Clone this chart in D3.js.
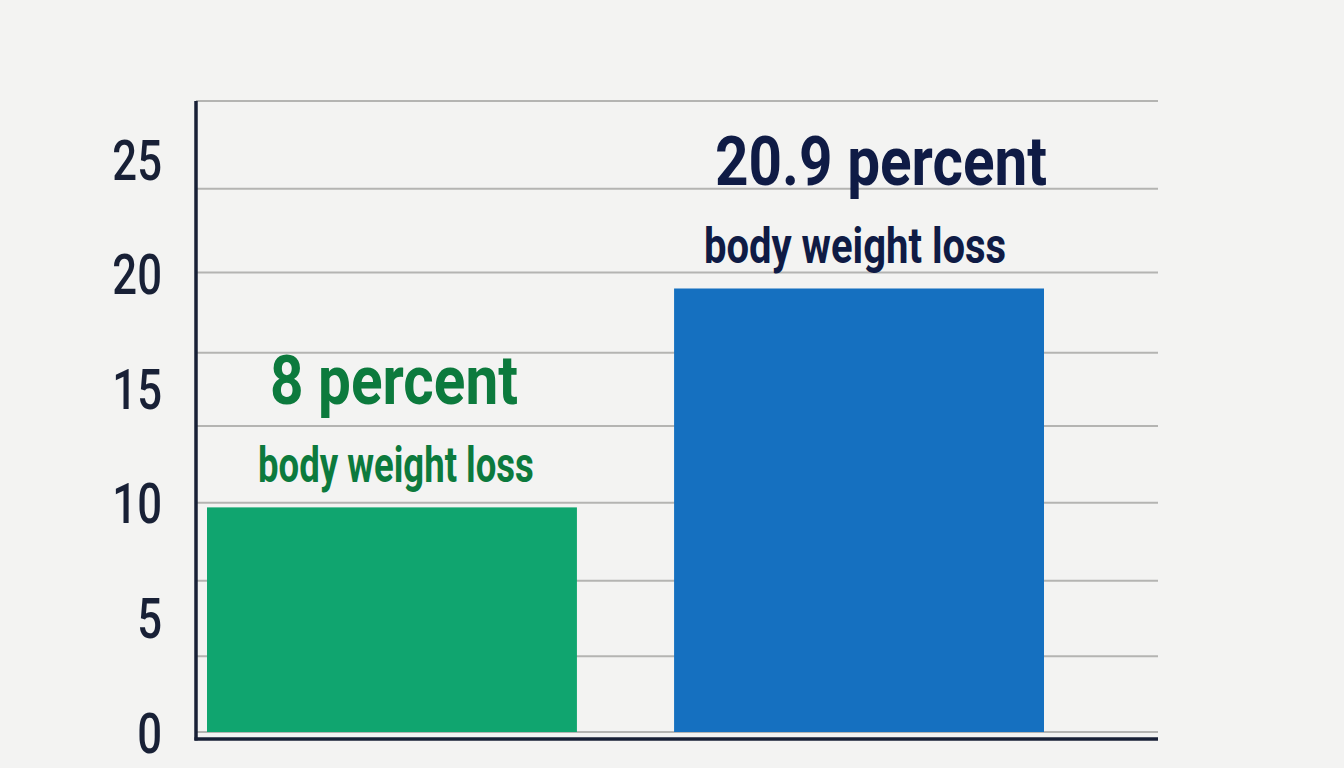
<!DOCTYPE html>
<html>
<head>
<meta charset="utf-8">
<script src="https://cdn.jsdelivr.net/npm/d3@7"></script>
<style>
  html, body { margin: 0; padding: 0; background: #f3f3f2; }
  svg { display: block; }
</style>
</head>
<body>
<svg id="chart" width="1344" height="768"></svg>
<script>
// --- data ---
const groups = ["low", "high"];
const barValues = [9.8, 19.35];
const headlines = ["8 percent", "20.9 percent"];
const sublines = ["body weight loss", "body weight loss"];
const yTicks = [0, 5, 10, 15, 20, 25];
const gridValues = [0, 3.3, 6.6, 10.0, 13.35, 16.55, 20.05, 23.7, 27.53];

// colours
const barFill = ["#10a56f", "#1570c0"];
const labelFill = ["#0c7a3d", "#0f1b45"];
const ink = "#182036";

const svg = d3.select("#chart");
const W = 1344, H = 768;
const axisX = 196, plotRight = 1158, axisY = 739;

// y: 0 sits on the bar baseline, 25 near the top
const y = d3.scaleLinear().domain([0, 25]).range([732, 159]);
const yMax = d3.max(gridValues);

const x = d3.scaleBand().domain(groups).range([207, 1044]).paddingInner(0.208).paddingOuter(0);

svg.append("rect").attr("width", W).attr("height", H).attr("fill", "#f3f3f2");

// gridlines
svg.append("g").selectAll("line").data(gridValues).join("line")
    .attr("x1", axisX).attr("x2", plotRight)
    .attr("y1", d => y(d)).attr("y2", d => y(d))
    .attr("stroke", "#b4b4b2").attr("stroke-width", 2);

// bars
svg.append("g").selectAll("rect").data(groups).join("rect")
    .attr("x", d => x(d))
    .attr("width", x.bandwidth())
    .attr("y", (d, i) => y(barValues[i]))
    .attr("height", (d, i) => y(0) - y(barValues[i]))
    .attr("fill", (d, i) => barFill[i]);

// axes lines
svg.append("line")
    .attr("x1", axisX).attr("x2", axisX)
    .attr("y1", y(yMax)).attr("y2", axisY + 1.5)
    .attr("stroke", ink).attr("stroke-width", 3.5);
svg.append("line")
    .attr("x1", axisX - 1.5).attr("x2", plotRight)
    .attr("y1", axisY).attr("y2", axisY)
    .attr("stroke", ink).attr("stroke-width", 3.5);

// y tick labels
const yAxis = svg.append("g")
    .attr("transform", `translate(${axisX},0)`)
    .call(d3.axisLeft(y).tickValues(yTicks).tickSize(0).tickPadding(0));
yAxis.select(".domain").remove();
yAxis.selectAll("text")
    .attr("x", 0).attr("dy", "0.36em")
    .attr("transform", "translate(-34,0) scale(0.78,1)")
    .attr("font-family", "Roboto, 'Noto Sans', sans-serif")
    .attr("font-weight", 500)
    .attr("font-size", 56)
    .attr("fill", ink);

// value labels above bars
const labels = svg.append("g").selectAll("g").data(groups).join("g")
    .attr("transform", (d, i) => `translate(${x(d) + x.bandwidth() / 2},${y(barValues[i])})`);

labels.append("text")
    .attr("transform", (d, i) => `translate(${i === 1 ? 22 : 2},-103) scale(0.86,1)`)
    .attr("text-anchor", "middle")
    .attr("font-family", "Roboto, 'Noto Sans', sans-serif")
    .attr("font-weight", 700)
    .attr("font-size", 68)
    .attr("fill", (d, i) => labelFill[i])
    .text((d, i) => headlines[i]);

labels.append("text")
    .attr("transform", (d, i) => `translate(${i === 1 ? -4 : 4},-25) scale(${i === 1 ? 0.8 : 0.73},1)`)
    .attr("text-anchor", "middle")
    .attr("font-family", "Roboto, 'Noto Sans', sans-serif")
    .attr("font-weight", 700)
    .attr("font-size", 50)
    .attr("fill", (d, i) => labelFill[i])
    .text((d, i) => sublines[i]);
</script>
</body>
</html>
